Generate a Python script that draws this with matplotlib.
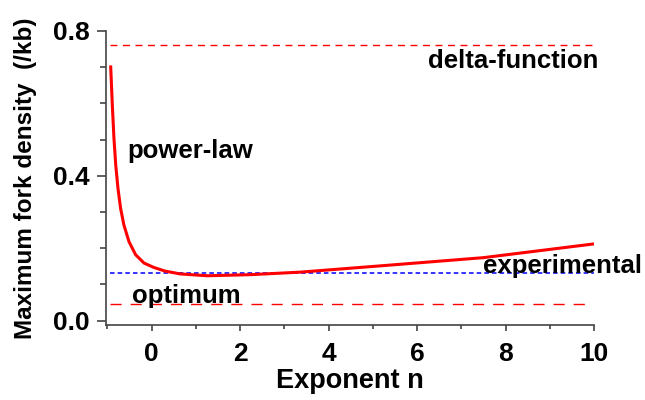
import matplotlib
matplotlib.use("Agg")
import matplotlib.pyplot as plt
from matplotlib.ticker import MultipleLocator, FormatStrFormatter

plt.rcParams['font.family'] = ['Liberation Sans', 'DejaVu Sans']
plt.rcParams['font.weight'] = 'bold'

# data
exponent_n = [-0.925, -0.887, -0.85, -0.81, -0.76, -0.70, -0.625, -0.51, -0.36,
              -0.17, 0.05, 0.3, 0.65, 1.26, 2.23, 3.36, 5.24, 7.5, 10.0]
fork_density = [0.705, 0.595, 0.503, 0.43, 0.366, 0.310, 0.264, 0.218, 0.182,
                0.159, 0.147, 0.137, 0.129, 0.124, 0.127, 0.134, 0.152, 0.174, 0.212]
delta_level = 0.76
experimental_level = 0.131
optimum_level = 0.046
labels = ["delta-function", "power-law", "experimental", "optimum"]

fig = plt.figure(figsize=(6.45, 4.0), dpi=100)
ax = fig.add_axes([106/645, 1-325/400, (594-106)/645, (325-31)/400])

ax.hlines(delta_level, -0.95, 10.0, colors='#ff0000', linestyles=(0, (5, 4)), linewidth=1.0)
ax.hlines(experimental_level, -0.95, 10.0, colors='#0000ff', linestyles=(0, (3, 2)), linewidth=1.1)
ax.hlines(optimum_level, -0.95, 9.8, colors='#ff0000', linestyles=(0, (8, 6.5)), linewidth=1.0)
ax.plot(exponent_n, fork_density, color='#ff0000', linewidth=2.2,
        solid_capstyle='butt', solid_joinstyle='round')

ax.set_xlim(-1.03, 10.0)
ax.set_ylim(-0.012, 0.8)
ax.xaxis.set_major_locator(MultipleLocator(2))
ax.xaxis.set_minor_locator(MultipleLocator(1))
ax.yaxis.set_major_locator(MultipleLocator(0.4))
ax.yaxis.set_minor_locator(MultipleLocator(0.1))
ax.yaxis.set_major_formatter(FormatStrFormatter('%.1f'))

for s in ['top', 'right']:
    ax.spines[s].set_visible(False)
for s in ['left', 'bottom']:
    ax.spines[s].set_color('#444444')
    ax.spines[s].set_linewidth(1.2)
ax.tick_params(axis='y', which='major', length=6.5, width=1.2, color='#444444', labelsize=19, pad=5)
ax.tick_params(axis='y', which='minor', length=4.3, width=1.2, color='#444444')
ax.tick_params(axis='x', which='major', length=4, width=1.2, color='#444444', labelsize=19, pad=8)
ax.tick_params(axis='x', which='minor', length=3, width=1.2, color='#444444')
for lab in ax.get_xticklabels() + ax.get_yticklabels():
    lab.set_fontweight('bold')

ax.set_xlabel("Exponent n", fontsize=19.5, fontweight='bold', labelpad=2)
ax.set_ylabel("Maximum fork density  (/kb)", fontsize=17.5, fontweight='bold', labelpad=12)

fs = 18.5
ax.text(10.09, 0.698, labels[0], fontsize=fs, fontweight='bold', ha='right', va='baseline', clip_on=False)
ax.text(-0.55, 0.4497, labels[1], fontsize=fs, fontweight='bold', ha='left', va='baseline', clip_on=False)
ax.text(11.08, 0.131, labels[2], fontsize=fs, fontweight='bold', ha='right', va='baseline', clip_on=False)
ax.text(-0.45, 0.050, labels[3], fontsize=fs, fontweight='bold', ha='left', va='baseline', clip_on=False)

fig.savefig("out.png", dpi=100)
